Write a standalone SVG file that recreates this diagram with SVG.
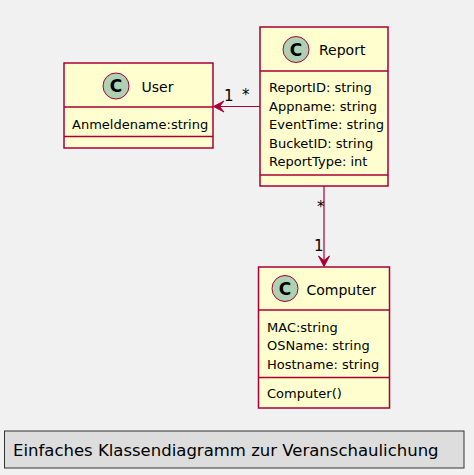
<svg xmlns="http://www.w3.org/2000/svg" width="474" height="475" viewBox="0 0 474 475">
<style>
.box{fill:#FEFECE;stroke:#A80036;stroke-width:1.5}
.sep{stroke:#A80036;stroke-width:1.5}
.circ{fill:#ADD1B2;stroke:#A80036;stroke-width:1}
.cl{font-family:"DejaVu Sans",sans-serif;font-size:17px;font-weight:bold;fill:#000;text-anchor:middle}
.t{font-family:"DejaVu Sans",sans-serif;font-size:14px;fill:#000}
.a{font-family:"DejaVu Sans",sans-serif;font-size:13px;fill:#000}
.lbl{font-family:"DejaVu Sans",sans-serif;font-size:15px;fill:#000}
.edge{stroke:#A80036;stroke-width:1.2;fill:none}
.head{fill:#A80036;stroke:#A80036;stroke-width:1}
</style>
<rect width="474" height="475" fill="#F1F1F1"/>
<g id="User">
<rect class="box" x="64" y="63" width="149" height="85"/>
<circle class="circ" cx="116" cy="86" r="13"/>
<text class="cl" x="116" y="92">C</text>
<text class="t" x="141.5" y="92">User</text>
<line class="sep" x1="64" y1="107" x2="213" y2="107"/>
<text class="a" x="72" y="129">Anmeldename:string</text>
<line class="sep" x1="64" y1="136.5" x2="213" y2="136.5"/>
</g>
<g id="Report">
<rect class="box" x="260" y="27" width="128" height="159"/>
<circle class="circ" cx="296" cy="49.5" r="13"/>
<text class="cl" x="296" y="55.5">C</text>
<text class="t" x="319" y="55">Report</text>
<line class="sep" x1="260" y1="71" x2="388" y2="71"/>
<text class="a" x="269" y="91.5">ReportID: string</text>
<text class="a" x="269" y="110.5">Appname: string</text>
<text class="a" x="269" y="129">EventTime: string</text>
<text class="a" x="269" y="147.5">BucketID: string</text>
<text class="a" x="269" y="166">ReportType: int</text>
<line class="sep" x1="260" y1="175" x2="388" y2="175"/>
</g>
<g id="Computer">
<rect class="box" x="258.5" y="267" width="131" height="141"/>
<circle class="circ" cx="285" cy="288.5" r="13"/>
<text class="cl" x="285" y="294.5">C</text>
<text class="t" x="306.5" y="295">Computer</text>
<line class="sep" x1="258.5" y1="310" x2="389.5" y2="310"/>
<text class="a" x="267" y="331.5">MAC:string</text>
<text class="a" x="267" y="350">OSName: string</text>
<text class="a" x="267" y="368.5">Hostname: string</text>
<line class="sep" x1="258.5" y1="377.5" x2="389.5" y2="377.5"/>
<text class="a" x="267" y="397.5">Computer()</text>
</g>
<g id="connectors">
<line class="edge" x1="260" y1="106.5" x2="216" y2="106.5"/>
<polygon class="head" points="213.5,106.5 224,101 219.5,106.5 224,112"/>
<text class="lbl" x="224" y="101">1</text>
<text class="lbl" x="242" y="100">*</text>
<line class="edge" x1="324" y1="186" x2="324" y2="263"/>
<polygon class="head" points="324,266.5 318.5,256 324,260.5 329.5,256"/>
<text class="lbl" x="317" y="212">*</text>
<text class="lbl" x="314" y="251">1</text>
</g>
<g id="caption">
<rect x="4.5" y="431" width="459.5" height="37" fill="#DDDDDD" stroke="#333333" stroke-width="1"/>
<text x="13" y="456" font-family="DejaVu Sans, sans-serif" font-size="16.5px" fill="#000">Einfaches Klassendiagramm zur Veranschaulichung</text>
</g>
</svg>
